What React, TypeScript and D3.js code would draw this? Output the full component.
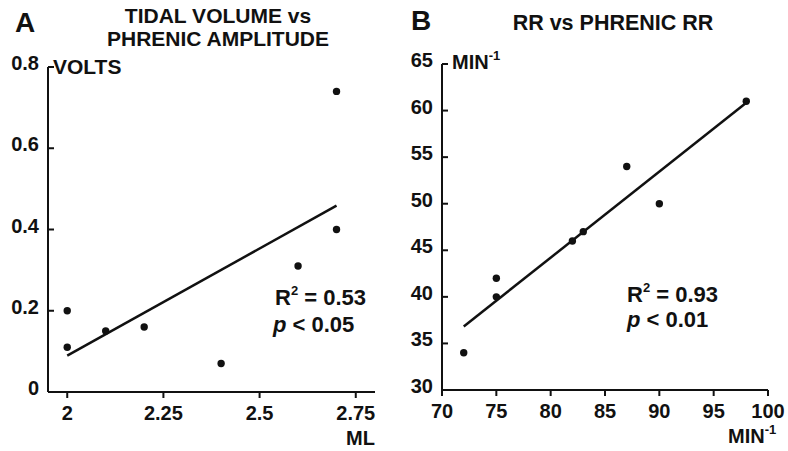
import React from "react";
import * as d3 from "d3";

const tidalVolume = [2, 2, 2.1, 2.2, 2.4, 2.6, 2.7, 2.7];
const phrenicAmplitude = [0.2, 0.11, 0.15, 0.16, 0.07, 0.31, 0.4, 0.74];
const aXTicks = [2, 2.25, 2.5, 2.75];
const aXTickLabels = ["2", "2.25", "2.5", "2.75"];
const aYTicks = [0, 0.2, 0.4, 0.6, 0.8];
const aYTickLabels = ["0", "0.2", "0.4", "0.6", "0.8"];

const phrenicRR = [72, 75, 75, 82, 83, 87, 90, 98];
const rr = [34, 42, 40, 46, 47, 54, 50, 61];
const bXTicks = [70, 75, 80, 85, 90, 95, 100];
const bYTicks = [30, 35, 40, 45, 50, 55, 60, 65];

const FONT = "'Liberation Sans', Arial, Helvetica, sans-serif";

function regression(xs: number[], ys: number[]) {
  const mx = d3.mean(xs)!;
  const my = d3.mean(ys)!;
  let sxy = 0, sxx = 0;
  xs.forEach((x, i) => {
    sxy += (x - mx) * (ys[i] - my);
    sxx += (x - mx) * (x - mx);
  });
  const slope = sxy / sxx;
  return (x: number) => my + slope * (x - mx);
}

type PanelProps = {
  xs: number[];
  ys: number[];
  xScale: d3.ScaleLinear<number, number>;
  yScale: d3.ScaleLinear<number, number>;
  xTicks: number[];
  xTickLabels: string[];
  yTicks: number[];
  yTickLabels: string[];
};

function Panel({ xs, ys, xScale, yScale, xTicks, xTickLabels, yTicks, yTickLabels }: PanelProps) {
  const [x0, x1] = xScale.range();
  const [yb, yt] = yScale.range();
  const fit = regression(xs, ys);
  const xmin = d3.min(xs)!;
  const xmax = d3.max(xs)!;
  return (
    <g>
      <line x1={x0} x2={x0} y1={yb} y2={yt} stroke="#111" strokeWidth={2} />
      <line x1={x0} x2={x1} y1={yb} y2={yb} stroke="#111" strokeWidth={2} />
      {yTicks.map((t, i) => (
        <g key={"y" + i}>
          {i > 0 && (
            <line x1={x0} x2={x0 + 6} y1={yScale(t)} y2={yScale(t)} stroke="#111" strokeWidth={2} />
          )}
          <text x={x0 - 9} y={yScale(t) + 3} textAnchor="end" fontSize={20} fontWeight="bold" fontFamily={FONT} fill="#111">
            {yTickLabels[i]}
          </text>
        </g>
      ))}
      {xTicks.map((t, i) => (
        <g key={"x" + i}>
          <line x1={xScale(t)} x2={xScale(t)} y1={yb} y2={yb + 6} stroke="#111" strokeWidth={2} />
          <text x={xScale(t)} y={yb + 28} textAnchor="middle" fontSize={20} fontWeight="bold" fontFamily={FONT} fill="#111">
            {xTickLabels[i]}
          </text>
        </g>
      ))}
      <line
        x1={xScale(xmin)}
        y1={yScale(fit(xmin))}
        x2={xScale(xmax)}
        y2={yScale(fit(xmax))}
        stroke="#111"
        strokeWidth={2.5}
      />
      {xs.map((x, i) => (
        <circle key={"p" + i} cx={xScale(x)} cy={yScale(ys[i])} r={3.7} fill="#111" />
      ))}
    </g>
  );
}

export default function App() {
  const axA = d3.scaleLinear().domain([1.95, 2.8]).range([48, 375]);
  const ayA = d3.scaleLinear().domain([0, 0.8]).range([392, 67]);
  const axB = d3.scaleLinear().domain([70, 100]).range([442, 768]);
  const ayB = d3.scaleLinear().domain([30, 65]).range([390, 64]);
  const t = { fontFamily: FONT, fontWeight: "bold" as const, fill: "#111" };
  return (
    <svg width={788} height={451} style={{ position: "absolute", left: 0, top: 0, background: "#fff" }}>
      <rect width={788} height={451} fill="#fff" />
      {/* Panel A */}
      <text x={15} y={32} fontSize={28} {...t}>A</text>
      <text x={218} y={23} fontSize={21} textAnchor="middle" {...t}>TIDAL VOLUME vs</text>
      <text x={218} y={45.5} fontSize={21} textAnchor="middle" {...t}>PHRENIC AMPLITUDE</text>
      <text x={53} y={74} fontSize={21} {...t}>VOLTS</text>
      <text x={375} y={445} fontSize={20} textAnchor="end" {...t}>ML</text>
      <Panel
        xs={tidalVolume}
        ys={phrenicAmplitude}
        xScale={axA}
        yScale={ayA}
        xTicks={aXTicks}
        xTickLabels={aXTickLabels}
        yTicks={aYTicks}
        yTickLabels={aYTickLabels}
      />
      <text x={275} y={305} fontSize={22} {...t}>
        R<tspan fontSize={13} dy={-10}>2</tspan><tspan dy={10}> = 0.53</tspan>
      </text>
      <text x={273} y={332} fontSize={22} {...t}>
        <tspan fontStyle="italic">p</tspan> &lt; 0.05
      </text>

      {/* Panel B */}
      <text x={411} y={30} fontSize={28} {...t}>B</text>
      <text x={613} y={30} fontSize={21.5} textAnchor="middle" {...t}>RR vs PHRENIC RR</text>
      <text x={452} y={69} fontSize={20} {...t}>
        MIN<tspan fontSize={13} dy={-9}>-1</tspan>
      </text>
      <text x={728} y={443} fontSize={20} {...t}>
        MIN<tspan fontSize={13} dy={-9}>-1</tspan>
      </text>
      <Panel
        xs={phrenicRR}
        ys={rr}
        xScale={axB}
        yScale={ayB}
        xTicks={bXTicks}
        xTickLabels={bXTicks.map(String)}
        yTicks={bYTicks}
        yTickLabels={bYTicks.map(String)}
      />
      <text x={627} y={302} fontSize={22} {...t}>
        R<tspan fontSize={13} dy={-10}>2</tspan><tspan dy={10}> = 0.93</tspan>
      </text>
      <text x={627} y={327} fontSize={22} {...t}>
        <tspan fontStyle="italic">p</tspan> &lt; 0.01
      </text>
    </svg>
  );
}
